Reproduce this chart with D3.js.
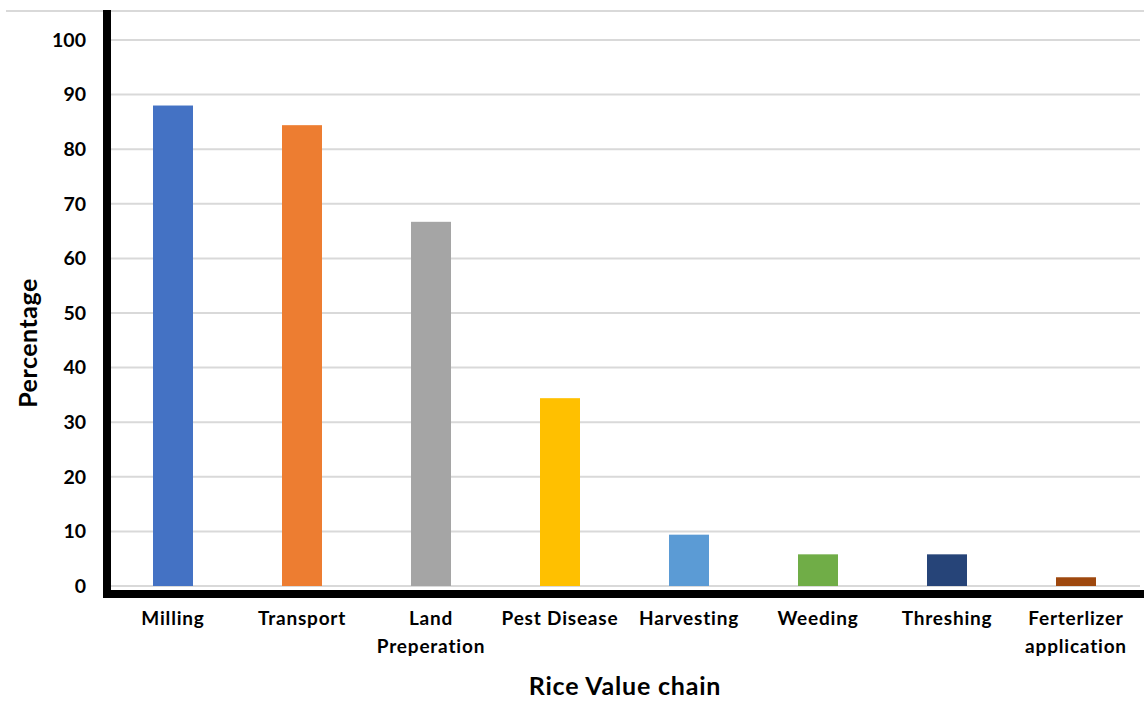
<!DOCTYPE html>
<html>
<head>
<meta charset="utf-8">
<script src="https://cdn.jsdelivr.net/npm/d3@7"></script>
<style>
  body { margin: 0; background: #fff; }
  text { font-family: Lato, "Open Sans", sans-serif; font-weight: bold; fill: #000; }
</style>
</head>
<body>
<div id="chart"></div>
<script>
// categories and values
var categories = ["Milling", "Transport", "Land Preperation", "Pest Disease",
                  "Harvesting", "Weeding", "Threshing", "Ferterlizer application"];
var labelLines = [["Milling"], ["Transport"], ["Land", "Preperation"], ["Pest Disease"],
                  ["Harvesting"], ["Weeding"], ["Threshing"], ["Ferterlizer", "application"]];
var values = [88, 84.4, 66.7, 34.4, 9.4, 5.8, 5.8, 1.6];
var colors = ["#4472c4", "#ed7d31", "#a5a5a5", "#ffc000",
              "#5b9bd5", "#70ad47", "#264478", "#9e480e"];
var yTicks = [0, 10, 20, 30, 40, 50, 60, 70, 80, 90, 100];

var width = 1144,
    height = 703;

var svg = d3.select("#chart").append("svg")
    .attr("width", width)
    .attr("height", height);

var x = d3.scaleBand()
    .domain(categories)
    .range([108.5, 1140.5]);

var y = d3.scaleLinear()
    .domain([0, 100])
    .range([586, 40]);

// top border of the plot area
svg.append("line")
    .attr("x1", 6).attr("x2", width)
    .attr("y1", 11).attr("y2", 11)
    .attr("stroke", "#d9d9d9")
    .attr("stroke-width", 2);

// gridlines
svg.append("g")
  .selectAll("line")
  .data(yTicks)
  .enter().append("line")
    .attr("x1", 108).attr("x2", 1140)
    .attr("y1", d => y(d)).attr("y2", d => y(d))
    .attr("stroke", "#d9d9d9")
    .attr("stroke-width", 2);

// bars
var bw = x.bandwidth() * 0.31;
svg.append("g")
  .selectAll("rect")
  .data(values)
  .enter().append("rect")
    .attr("x", (d, i) => x(categories[i]) + x.bandwidth() / 2 - bw / 2)
    .attr("y", d => y(d))
    .attr("width", bw)
    .attr("height", d => y(0) - y(d))
    .attr("fill", (d, i) => colors[i]);

// y axis labels
var yAxis = d3.axisLeft(y).tickValues(yTicks).tickSize(0).tickPadding(0);
var gy = svg.append("g")
    .attr("transform", "translate(86,0)")
    .call(yAxis);
gy.select(".domain").remove();
gy.selectAll("text")
    .attr("font-size", 19.5)
    .attr("font-family", "Lato, 'Open Sans', sans-serif")
    .attr("font-weight", "bold")
    .attr("fill", "#000");

// thick axis lines
svg.append("line")
    .attr("x1", 107).attr("x2", 107)
    .attr("y1", 10).attr("y2", 598)
    .attr("stroke", "#000").attr("stroke-width", 8);
svg.append("line")
    .attr("x1", 103).attr("x2", width)
    .attr("y1", 594).attr("y2", 594)
    .attr("stroke", "#000").attr("stroke-width", 8);

// category labels
var gx = svg.append("g");
labelLines.forEach(function(lines, i) {
    var cx = x(categories[i]) + x.bandwidth() / 2;
    var t = gx.append("text")
        .attr("text-anchor", "middle")
        .attr("font-size", 19)
        .attr("letter-spacing", 0.8)
        .attr("x", cx)
        .attr("y", 625);
    lines.forEach(function(s, j) {
        t.append("tspan")
            .attr("x", cx)
            .attr("dy", j == 0 ? 0 : 28)
            .text(s);
    });
});

// axis titles
svg.append("text")
    .attr("text-anchor", "middle")
    .attr("font-size", 25)
    .attr("letter-spacing", 0.8)
    .attr("x", 625).attr("y", 695)
    .text("Rice Value chain");

svg.append("text")
    .attr("text-anchor", "middle")
    .attr("font-size", 25)
    .attr("letter-spacing", 0.5)
    .attr("transform", "translate(37,343) rotate(-90)")
    .text("Percentage");
</script>
</body>
</html>
